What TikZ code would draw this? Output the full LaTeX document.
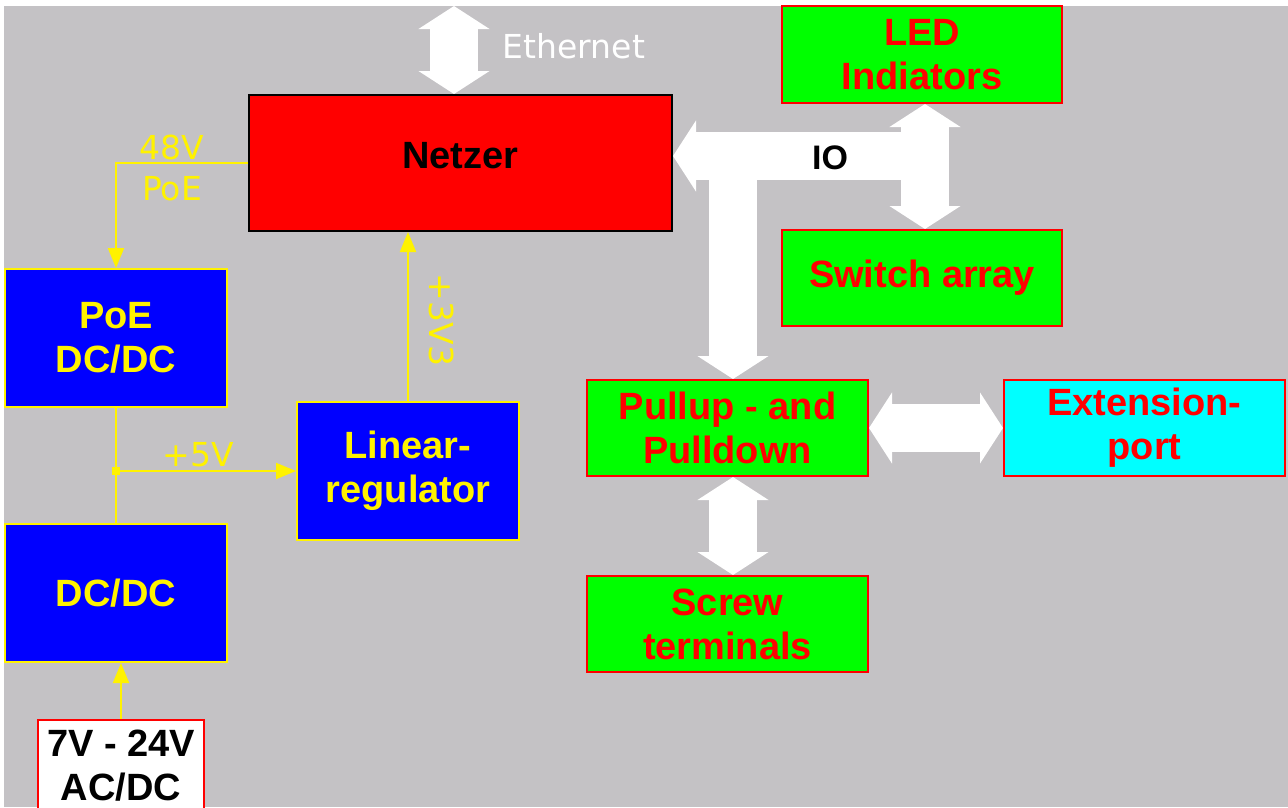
\documentclass[tikz,border=0pt]{standalone}
\usepackage{fontspec}
\setmainfont{Liberation Sans}
\newfontfamily\thinfont{DejaVu Sans}
\usetikzlibrary{arrows.meta}

\definecolor{bggray}{HTML}{C4C2C5}
\definecolor{portcyan}{RGB}{0,255,255}

\tikzset{
  bt/.tip={Triangle[length=23pt,width=70pt]},
  wt/.tip={Triangle[length=20pt,width=16pt]},
  block/.style={rectangle, inner sep=0pt, line width=2pt, align=center,
    font=\bfseries\fontsize{38}{44}\selectfont},
  iobox/.style={block, fill=green, draw=red, text=red,
    minimum width=281pt, minimum height=96pt},
  pwrbox/.style={block, fill=blue, draw=yellow, text=yellow,
    minimum width=222pt, minimum height=138pt},
  bus/.style={white, line width=48pt},
  wire/.style={yellow, line width=2pt},
  volt/.style={yellow, font=\thinfont\fontsize{33}{36}\selectfont},
}

\begin{document}
\begin{tikzpicture}[x=1pt, y=-1pt]
    % Background
    \useasboundingbox (0,0) rectangle (1288,807);
    \fill[white] (0,0) rectangle (1288,807);
    \fill[bggray] (4,6) rectangle (1288,807);

    % Main block
    \node[block, fill=red, draw=black, minimum width=423pt, minimum height=136pt, text depth=16pt] (netzer) at (460.5,163) {Netzer};

    % IO side
    \node[iobox, minimum width=280pt, minimum height=97pt] (led) at (922,54.5) {LED\\Indiators};
    \node[iobox, minimum width=280pt] (switches) at (922,278) {Switch array};
    \node[iobox] (pullup) at (727.5,428) {Pullup - and\\Pulldown};
    \node[iobox, fill=portcyan] (extport) at (1144.5,428) {Extension-\\port};
    \node[iobox] (screw) at (727.5,624) {Screw\\terminals};

    % Power side
    \node[pwrbox] (poe) at (116,338) {PoE\\DC/DC};
    \node[pwrbox] (linreg) at (408,471) {Linear-\\regulator};
    \node[pwrbox] (dcdc) at (116,593) {DC/DC};
    \node[block, fill=white, draw=red, text=black, minimum width=166pt, minimum height=92pt] (supply) at (121,766) {7V - 24V\\AC/DC};

    % Ethernet
    \coordinate (ethtop) at (454,6);
    \draw[bus, bt-bt] (ethtop) -- (ethtop |- netzer.north);
    \node[white, font=\thinfont\fontsize{33}{36}\selectfont] (ethlabel) at (574,46) {Ethernet};

    % IO bus
    \coordinate (iojoint) at (925,156);
    \coordinate (iodown) at (733,156);
    \draw[bus, bt-] (iojoint -| netzer.east) -- (iojoint);
    \draw[bus, bt-bt] (led.south -| iojoint) -- (switches.north -| iojoint);
    \draw[bus, -bt] (iodown) -- (iodown |- pullup.north);
    \node[font=\bfseries\fontsize{34}{36}\selectfont] (iolabel) at (830,158) {IO};

    \draw[bus, bt-bt] (pullup.east) -- (extport.west);
    \draw[bus, bt-bt] (iodown |- pullup.south) -- (iodown |- screw.north);

    % Supply wires
    \draw[wire, -wt] (netzer.west) -| (poe.north);
    \node[volt] (v48) at (172,147) {48V};
    \node[volt] (vpoe) at (172,189) {PoE};

    \draw[wire] (poe.south) -- (dcdc.north);
    \coordinate (junc) at (poe.south |- linreg.west);
    \fill[yellow] ([shift={(-4pt,-4pt)}]junc) rectangle ([shift={(4pt,4pt)}]junc);
    \draw[wire, -wt] (junc) -- (linreg.west);
    \node[volt] (v5) at (198,455) {+5V};

    \draw[wire, -wt] (linreg.north) -- (linreg.north |- netzer.south);
    \node[volt, rotate=-90] (v33) at (442,320) {+3V3};

    \draw[wire, -wt] (supply.north) -- (supply.north |- dcdc.south);
\end{tikzpicture}
\end{document}
